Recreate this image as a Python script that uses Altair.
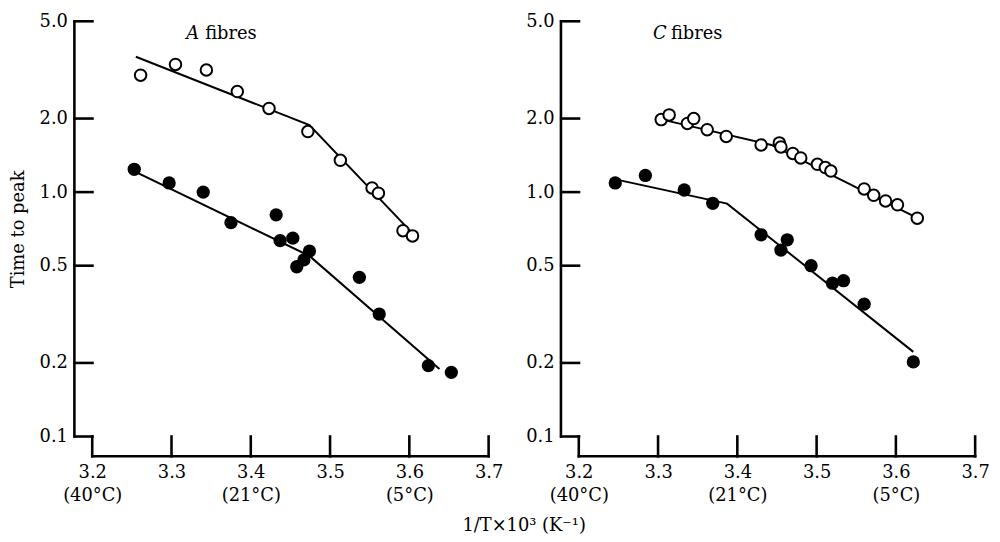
import altair as alt
import pandas as pd

FONT = "DejaVu Serif"
FS = 18

# Axis ticks / labels
X_TICKS = [3.2, 3.3, 3.4, 3.5, 3.6, 3.7]
X_TEMPS = ["(40°C)", "", "(21°C)", "", "(5°C)", ""]
Y_TICKS = [0.1, 0.2, 0.5, 1.0, 2.0, 5.0]

# A fibres
a_open_x = [3.261, 3.305, 3.344, 3.383, 3.423, 3.472, 3.513, 3.553, 3.561, 3.592, 3.604]
a_open_y = [3.01, 3.33, 3.16, 2.58, 2.20, 1.77, 1.35, 1.04, 0.99, 0.695, 0.662]
a_open_fit_x = [3.255, 3.474, 3.602]
a_open_fit_y = [3.58, 1.88, 0.689]
a_fill_x = [3.253, 3.297, 3.340, 3.375, 3.432, 3.437, 3.453, 3.474, 3.467, 3.458, 3.537, 3.562, 3.624, 3.653]
a_fill_y = [1.24, 1.09, 1.00, 0.75, 0.807, 0.633, 0.648, 0.574, 0.528, 0.495, 0.448, 0.317, 0.195, 0.183]
a_fill_fit_x = [3.248, 3.474, 3.638]
a_fill_fit_y = [1.24, 0.548, 0.189]

# C fibres
c_open_x = [3.304, 3.314, 3.337, 3.345, 3.362, 3.386, 3.430, 3.453, 3.455, 3.470, 3.480, 3.501,
            3.511, 3.518, 3.560, 3.572, 3.587, 3.602, 3.627]
c_open_y = [1.98, 2.07, 1.91, 2.00, 1.80, 1.69, 1.56, 1.59, 1.53, 1.44, 1.38, 1.30,
            1.26, 1.22, 1.03, 0.97, 0.92, 0.887, 0.782]
c_open_fit_x = [3.308, 3.443, 3.628]
c_open_fit_y = [1.97, 1.56, 0.78]
c_fill_x = [3.246, 3.284, 3.333, 3.369, 3.430, 3.463, 3.455, 3.493, 3.520, 3.534, 3.560, 3.622]
c_fill_y = [1.09, 1.17, 1.02, 0.90, 0.669, 0.638, 0.579, 0.50, 0.424, 0.434, 0.348, 0.202]
c_fill_fit_x = [3.245, 3.387, 3.622]
c_fill_fit_y = [1.13, 0.897, 0.222]

panel_letters = ["A", "C"]
panel_word = "fibres"
y_title = "Time to peak"
x_title = "1/T×10³ (K⁻¹)"

W, H = 400, 419
XOFF = 20
YOFF = 18
LW = 2.6

label_expr = "datum.label"
for v, t in reversed(list(zip(X_TICKS, X_TEMPS))):
    if t:
        label_expr = f"abs(datum.value - {v}) < 0.001 ? ['{v:.1f}', '{t}'] : ({label_expr})"

x_axis = alt.Axis(values=X_TICKS, format=".1f", labelExpr=label_expr, ticks=False, tickSize=0,
                  grid=False, domain=False, offset=XOFF,
                  labelFont=FONT, labelFontSize=FS, labelColor="black", labelPadding=7,
                  labelLineHeight=24, labelFlush=False, labelOverlap=False)

y_axis = alt.Axis(values=Y_TICKS, format=".1f", ticks=False, tickSize=0, grid=False,
                  domain=False, offset=YOFF,
                  labelFont=FONT, labelFontSize=FS, labelColor="black", labelPadding=7,
                  labelFlush=False, labelOverlap=False,
                  titleFont=FONT, titleFontSize=FS, titleFontWeight="normal", titleColor="black",
                  titlePadding=12)


def xenc():
    return alt.X("x:Q", scale=alt.Scale(domain=[3.2, 3.7], nice=False, zero=False), axis=x_axis, title=None)


def yenc(show_title):
    return alt.Y("y:Q", scale=alt.Scale(type="log", domain=[0.1, 5.0], nice=False),
                 axis=y_axis, title=(y_title if show_title else None))


def panel(letter, ox, oy, ofx, ofy, fx, fy, fitx, fity, show_title, lx, wx):
    xe, ye = xenc(), yenc(show_title)
    open_df = pd.DataFrame({"x": ox, "y": oy})
    open_fit = pd.DataFrame({"x": ofx, "y": ofy})
    fill_df = pd.DataFrame({"x": fx, "y": fy})
    fill_fit = pd.DataFrame({"x": fitx, "y": fity})
    yt = pd.DataFrame({"y": Y_TICKS})
    xt = pd.DataFrame({"x": X_TICKS})
    one = pd.DataFrame({"k": [0]})

    l1 = alt.Chart(open_fit).mark_line(color="black", strokeWidth=2).encode(x=xe, y=ye)
    l2 = alt.Chart(fill_fit).mark_line(color="black", strokeWidth=2).encode(x=xe, y=ye)
    p1 = alt.Chart(open_df).mark_point(shape="circle", size=135, fill="white", fillOpacity=1,
                                       stroke="black", strokeWidth=2, opacity=1).encode(x=xe, y=ye)
    p2 = alt.Chart(fill_df).mark_circle(size=180, color="black", opacity=1).encode(x=xe, y=ye)
    # axis frame (offset spines)
    ydom = alt.Chart(one).mark_rect(color="black").encode(
        x=alt.value(-YOFF - LW / 2), x2=alt.value(-YOFF + LW / 2),
        y=alt.value(-LW / 2), y2=alt.value(H + LW / 2))
    xdom = alt.Chart(one).mark_rect(color="black").encode(
        x=alt.value(-LW / 2), x2=alt.value(W + LW / 2),
        y=alt.value(H + XOFF - LW / 2), y2=alt.value(H + XOFF + LW / 2))
    # inward ticks
    ytk = alt.Chart(yt).mark_tick(color="black", thickness=LW, opacity=1, orient="horizontal").encode(
        y=ye, x=alt.value(-YOFF / 2 + 0.25), size=alt.value(YOFF + LW))
    xtk = alt.Chart(xt).mark_tick(color="black", thickness=LW, opacity=1, orient="vertical").encode(
        x=xe, y=alt.value(H + XOFF / 2), size=alt.value(XOFF + LW))
    t1 = alt.Chart(pd.DataFrame({"t": [letter]})).mark_text(
        font=FONT, fontSize=FS, fontStyle="italic", align="left", baseline="alphabetic",
        color="black").encode(text="t:N", x=alt.value(lx), y=alt.value(18))
    t2 = alt.Chart(pd.DataFrame({"t": [panel_word]})).mark_text(
        font=FONT, fontSize=FS, align="left", baseline="alphabetic",
        color="black").encode(text="t:N", x=alt.value(wx), y=alt.value(18))
    return alt.layer(l1, l2, p1, p2, ydom, xdom, ytk, xtk, t1, t2).properties(width=W, height=H)


left = panel(panel_letters[0], a_open_x, a_open_y, a_open_fit_x, a_open_fit_y,
             a_fill_x, a_fill_y, a_fill_fit_x, a_fill_fit_y, True, 95, 114)
right = panel(panel_letters[1], c_open_x, c_open_y, c_open_fit_x, c_open_fit_y,
              c_fill_x, c_fill_y, c_fill_fit_x, c_fill_fit_y, False, 75, 93)

chart = alt.hconcat(left, right, spacing=22).properties(
    title=alt.TitleParams(x_title, orient="bottom", anchor="middle", font=FONT, fontSize=FS,
                          fontWeight="normal", color="black", offset=12, dx=25),
    padding={"left": 1, "top": 2, "right": 2, "bottom": 0},
).configure_view(stroke=None)

chart.save("out.html", embed_options={"renderer": "svg", "actions": False})
